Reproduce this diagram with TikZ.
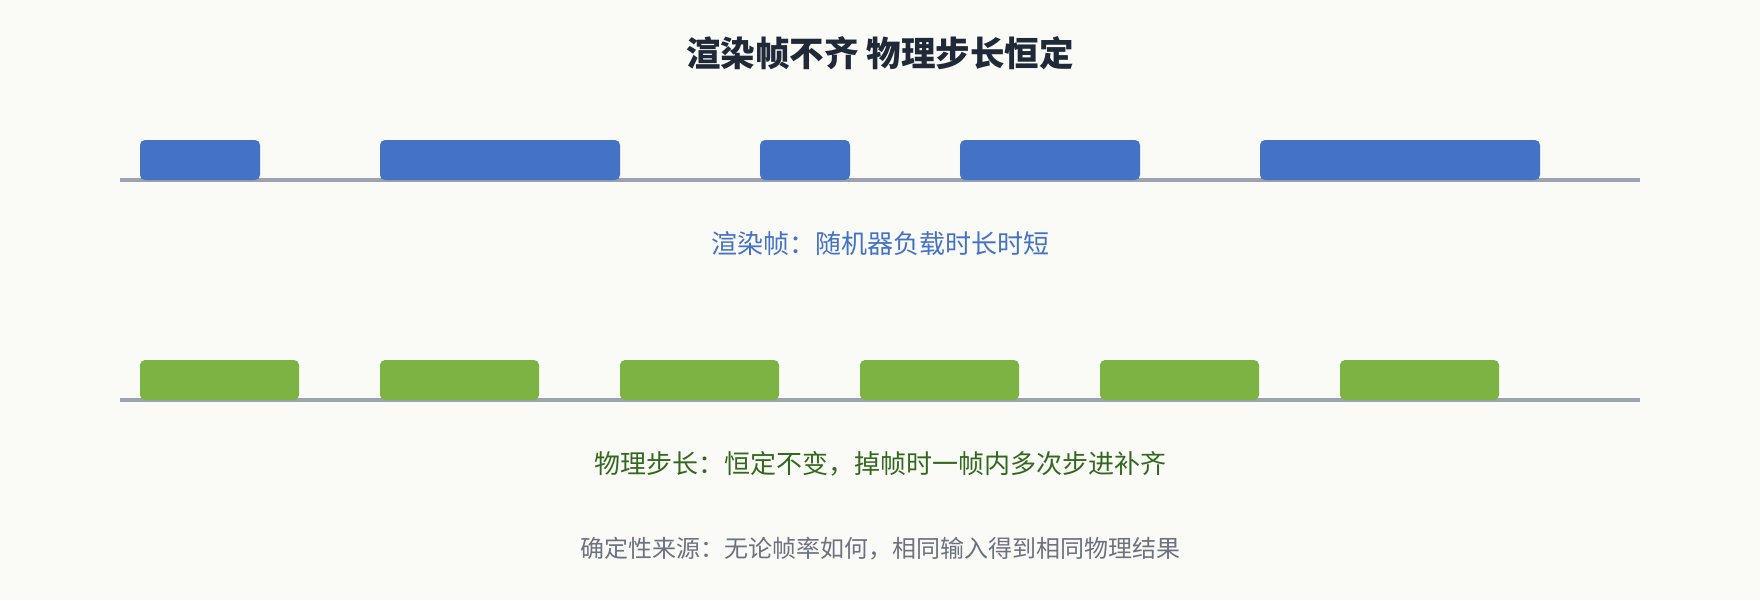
\documentclass[tikz,border=0pt]{standalone}
\usepackage{fontspec}
\newfontfamily\cjk{Noto Sans CJK SC}
\definecolor{bgc}{HTML}{FAFAF7}
\definecolor{titlec}{HTML}{1F2937}
\definecolor{bluec}{HTML}{4472C4}
\definecolor{greenc}{HTML}{7CB342}
\definecolor{greentxt}{HTML}{33691E}
\definecolor{graytxt}{HTML}{6B7280}
\definecolor{axisc}{HTML}{9CA3AF}
\tikzset{
  renderbar/.style={fill=bluec, draw=none, rounded corners=5pt},
  physbar/.style={fill=greenc, draw=none, rounded corners=5pt},
  axisline/.style={draw=axisc, line width=3.5pt},
  caption/.style={font=\cjk\fontsize{26}{30}\selectfont, anchor=center, inner sep=0pt},
}
\begin{document}
\begin{tikzpicture}[x=1pt,y=-1pt]
\fill[bgc] (0,0) rectangle (1760,600);
\useasboundingbox (0,0) rectangle (1760,600);
\node[font=\cjk\bfseries\fontsize{34.5}{40}\selectfont, text=titlec, inner sep=0pt] (title) at (880,53) {渲染帧不齐 物理步长恒定};
% render frames
\coordinate (ra) at (120,180);
\coordinate (rb) at (1640,180);
\draw[axisline] (ra) -- (rb);
\foreach \a/\b [count=\i] in {140/260, 380/620, 760/850, 960/1140, 1260/1540}{
  \path[renderbar] (\a,140) rectangle (\b,180);
}
\node[caption, text=bluec] (rcap) at (880,244) {渲染帧：随机器负载时长时短};
% physics steps
\coordinate (pa) at (120,400);
\coordinate (pb) at (1640,400);
\draw[axisline] (pa) -- (pb);
\foreach \k in {0,...,5}{
  \path[physbar] ({140+240*\k},360) rectangle ({299+240*\k},400);
}
\node[caption, text=greentxt] (pcap) at (880,464) {物理步长：恒定不变，掉帧时一帧内多次步进补齐};
\node[caption, font=\cjk\fontsize{24}{28}\selectfont, text=graytxt] (dcap) at (880,549) {确定性来源：无论帧率如何，相同输入得到相同物理结果};
\end{tikzpicture}
\end{document}
